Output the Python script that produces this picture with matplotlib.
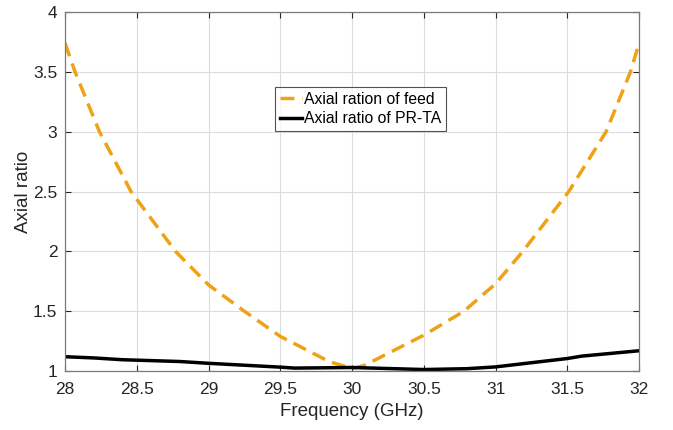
import matplotlib.pyplot as plt

plt.rcParams['font.family'] = ['Liberation Sans', 'DejaVu Sans']

# feed axial ratio
freq_feed = [28.0, 28.07, 28.24, 28.46, 28.77, 29.0, 29.25, 29.5, 29.84,
             30.0, 30.09, 30.5, 30.78, 31.0, 31.19, 31.51, 31.77, 31.94, 32.0]
ar_feed = [3.74, 3.5, 3.0, 2.5, 2.0, 1.72, 1.5, 1.29, 1.08,
           1.02, 1.05, 1.30, 1.5, 1.73, 2.0, 2.5, 3.0, 3.5, 3.74]

# PR-TA axial ratio
freq_ta = [28.0, 28.2, 28.4, 28.8, 29.0, 29.5, 29.6, 30.0, 30.5, 30.8, 31.0,
           31.5, 31.6, 32.0]
ar_ta = [1.12, 1.11, 1.095, 1.08, 1.065, 1.033, 1.025, 1.03, 1.013, 1.02,
         1.035, 1.105, 1.125, 1.17]

xticks = [28, 28.5, 29, 29.5, 30, 30.5, 31, 31.5, 32]
yticks = [1, 1.5, 2, 2.5, 3, 3.5, 4]

fig = plt.figure(figsize=(6.73, 4.30), dpi=100)
ax = fig.add_axes([0.0966, 0.137, 0.853, 0.835])

ax.plot(freq_feed, ar_feed, color='#EFA216', lw=2.5, linestyle=(0, (4, 2.2)),
        label='Axial ration of feed')
ax.plot(freq_ta, ar_ta, color='black', lw=2.5, label='Axial ratio of PR-TA')

ax.set_xlim(28, 32)
ax.set_ylim(1, 4)
ax.set_xticks(xticks)
ax.set_xticklabels([f'{t:g}' for t in xticks])
ax.set_yticks(yticks)
ax.set_yticklabels([f'{t:g}' for t in yticks])
ax.grid(True, color='#dcdcdc', lw=0.8)
ax.tick_params(direction='in', top=True, right=True, labelsize=12.5,
               colors='#262626', length=4)
ax.tick_params(axis='x', pad=8)
ax.tick_params(axis='y', pad=5.5)
for s in ax.spines.values():
    s.set_color('#7a7a7a')
    s.set_linewidth(0.9)

ax.set_xlabel('Frequency (GHz)', fontsize=13.5, color='#262626', labelpad=4)
ax.set_ylabel('Axial ratio', fontsize=13.5, color='#262626', labelpad=1)

leg = ax.legend(loc='upper left', bbox_to_anchor=(0.366, 0.791), fontsize=11.3,
                frameon=True, fancybox=False, handlelength=1.4,
                handletextpad=0.15, borderpad=0.3, labelspacing=0.3,
                borderaxespad=0)
leg.get_frame().set_edgecolor('#262626')
leg.get_frame().set_linewidth(0.8)

fig.savefig('out.png', dpi=100)
